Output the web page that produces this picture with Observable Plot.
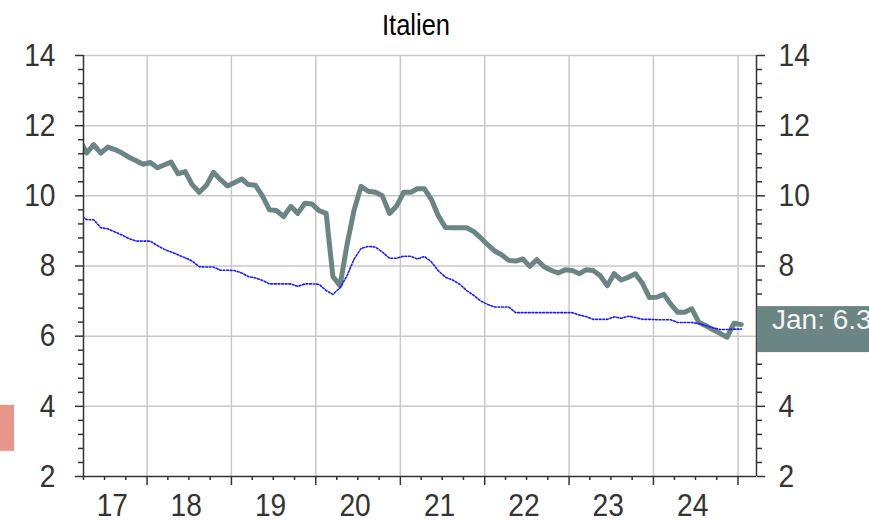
<!DOCTYPE html>
<html><head><meta charset="utf-8">
<script src="https://cdn.jsdelivr.net/npm/d3@7"></script>
<script src="https://cdn.jsdelivr.net/npm/@observablehq/plot@0.6"></script>
<style>
html,body{margin:0;padding:0;background:#fff;}
#chart{position:relative;width:869px;height:520px;overflow:hidden;}
</style></head><body><div id="chart"></div>
<script>
// ---- data ----
const title = "Italien";
const firstMonth = {year: 2017, month: 2}; // March 2017 (0-based month), observations mid-month
const unemployment = [11.6, 11.22, 11.46, 11.22, 11.39, 11.32, 11.22, 11.1, 11.0, 10.9,
  10.95, 10.8, 10.88, 10.96, 10.63, 10.69, 10.32, 10.1, 10.3, 10.67, 10.46, 10.28,
  10.38, 10.48, 10.32, 10.3, 10.0, 9.6, 9.58, 9.41, 9.7, 9.5, 9.79, 9.77,
  9.58, 9.5, 7.7, 7.44, 8.6, 9.6, 10.27, 10.13, 10.1, 10.0, 9.5, 9.7,
  10.1, 10.1, 10.2, 10.2, 9.9, 9.42, 9.1, 9.09, 9.09, 9.09, 8.98, 8.8,
  8.6, 8.42, 8.32, 8.16, 8.14, 8.2, 7.99, 8.18, 7.98, 7.88, 7.8, 7.89,
  7.87, 7.78, 7.89, 7.87, 7.73, 7.44, 7.78, 7.6, 7.68, 7.78, 7.5, 7.1,
  7.11, 7.19, 6.92, 6.68, 6.68, 6.78, 6.4, 6.3, 6.18, 6.08, 5.97, 6.37,
  6.33];
const trend = [9.45, 9.32, 9.32, 9.09, 9.06, 8.97, 8.88, 8.78, 8.71, 8.71,
  8.71, 8.58, 8.48, 8.4, 8.32, 8.23, 8.14, 7.98, 7.97, 7.97, 7.88, 7.88,
  7.87, 7.8, 7.7, 7.66, 7.59, 7.49, 7.49, 7.49, 7.49, 7.42, 7.49, 7.49,
  7.48, 7.3, 7.19, 7.38, 7.72, 8.2, 8.5, 8.56, 8.54, 8.4, 8.22, 8.22,
  8.28, 8.28, 8.2, 8.27, 8.12, 7.86, 7.68, 7.6, 7.48, 7.3, 7.16, 7.0,
  6.9, 6.83, 6.83, 6.83, 6.67, 6.67, 6.67, 6.67, 6.67, 6.67, 6.67, 6.67,
  6.67, 6.6, 6.56, 6.48, 6.48, 6.48, 6.55, 6.51, 6.57, 6.53, 6.48, 6.48,
  6.47, 6.47, 6.47, 6.39, 6.39, 6.39, 6.36, 6.3, 6.24, 6.19, 6.19, 6.2,
  6.2];
const yTicks = [2, 4, 6, 8, 10, 12, 14];
const yearLabels = [2017, 2018, 2019, 2020, 2021, 2022, 2023, 2024];
const lastLabel = "Jan: 6.3";

// ---- build ----
const FONT = "'Liberation Sans',Arial,sans-serif";
const GRAY = "#6b8484";
const GRID = "#c8c8c8";
const AX = "#333";
const xStart = new Date(Date.UTC(2017, 3, 1));
const xEnd = new Date(Date.UTC(2025, 2, 22));
const mkDate = i => new Date(Date.UTC(firstMonth.year, firstMonth.month + i, 15));
const uData = unemployment.map((v, i) => ({date: mkDate(i), value: v}));
const tData = trend.map((v, i) => ({date: mkDate(i), value: v}));

const yearStarts = yearLabels.map(y => new Date(Date.UTC(y + 1, 0, 1)));
const quarterTicks = [];
for (let y = 2017; y <= 2024; y++) for (const m of [3, 6, 9]) quarterTicks.push(new Date(Date.UTC(y, m, 1)));
const yMinor = [];
for (let k = 0; k < yTicks.length - 1; k++) for (let s = 1; s <= 4; s++) yMinor.push(+(yTicks[k] + s * (yTicks[k + 1] - yTicks[k]) / 5).toFixed(2));
const labelDates = yearLabels.map(y => {
  const a = Math.max(+new Date(Date.UTC(y, 0, 1)), +xStart);
  const b = Math.min(+new Date(Date.UTC(y + 1, 0, 1)), +xEnd);
  return new Date((a + b) / 2);
});

const plot = Plot.plot({
  width: 869, height: 520,
  marginLeft: 83, marginRight: 113, marginTop: 55, marginBottom: 44,
  style: {fontFamily: FONT, background: "white", overflow: "hidden"},
  x: {type: "utc", domain: [xStart, xEnd]},
  y: {domain: [2, 14]},
  marks: [
    Plot.gridY(yTicks.filter(v => v > 2), {stroke: GRID, strokeOpacity: 1, strokeWidth: 1.5}),
    Plot.gridX(yearStarts, {stroke: GRID, strokeOpacity: 1, strokeWidth: 1.5}),
    Plot.lineY(uData, {x: "date", y: "value", stroke: GRAY, strokeWidth: 5, strokeLinejoin: "round", clip: true}),
    Plot.lineY(tData, {x: "date", y: "value", stroke: "#1a1aff", strokeWidth: 1.6, strokeDasharray: "1.8,1.8", clip: true}),
    Plot.ruleY([2], {stroke: AX, strokeWidth: 1.5}),
    Plot.ruleX([xStart, xEnd], {stroke: AX, strokeWidth: 1.5}),
    Plot.axisY(yTicks, {anchor: "left", label: null, tickSize: 8, tickPadding: 20, fontSize: 32, color: AX, strokeWidth: 1.5, tickFormat: d => String(d)}),
    Plot.axisY(yMinor, {anchor: "left", label: null, tickSize: 5, color: AX, strokeWidth: 1.5, tickFormat: () => ""}),
    Plot.axisY(yTicks, {anchor: "right", label: null, tickSize: 8, tickPadding: 14, fontSize: 32, color: AX, strokeWidth: 1.5, tickFormat: d => String(d)}),
    Plot.axisY(yMinor, {anchor: "right", label: null, tickSize: 5, color: AX, strokeWidth: 1.5, tickFormat: () => ""}),
    Plot.axisX(yearStarts, {anchor: "bottom", label: null, tickSize: 9, color: AX, strokeWidth: 1.5, tickFormat: () => ""}),
    Plot.axisX(quarterTicks, {anchor: "bottom", label: null, tickSize: 4, color: AX, strokeWidth: 1.5, tickFormat: () => ""}),
    Plot.axisX(labelDates, {anchor: "bottom", label: null, tickSize: 0, tickPadding: 17, fontSize: 32, color: AX, dx: -3, tickFormat: d => String(d.getUTCFullYear()).slice(2)}),
    Plot.text([title], {frameAnchor: "top", lineAnchor: "middle", dy: -30, dx: -4, fontSize: 29, fill: "black"})
  ]
});
document.getElementById("chart").appendChild(plot);

// slightly condensed lettering, as in the reference
d3.select(plot).selectAll("text").each(function () {
  const t = this.getAttribute("transform");
  if (t) this.setAttribute("transform", t + " scale(0.88,1)");
  else {
    const x = +this.getAttribute("x") || 0, y = +this.getAttribute("y") || 0;
    this.removeAttribute("x"); this.removeAttribute("y");
    this.setAttribute("transform", `translate(${x},${y}) scale(0.88,1)`);
  }
});

// value label box at the right, and clipped label box at the left
const xs = plot.scale("x"), ys = plot.scale("y");
const svg = d3.select(plot);
const last = uData[uData.length - 1];
const yLast = ys.apply(last.value);
const xRight = xs.apply(xEnd);
svg.append("rect").attr("x", xRight + 0.75).attr("y", yLast - 18).attr("width", 869 - xRight).attr("height", 46).attr("fill", GRAY);
svg.append("text").attr("x", xRight + 16).attr("y", yLast + 5).attr("fill", "#f4f4f4")
  .attr("text-anchor", "start").attr("font-size", 28).attr("font-family", FONT).text(lastLabel);
const y4 = ys.apply(4);
svg.append("rect").attr("x", 0).attr("y", y4 - 1).attr("width", 14).attr("height", 46).attr("fill", "#e8958a");
</script>
</body></html>
